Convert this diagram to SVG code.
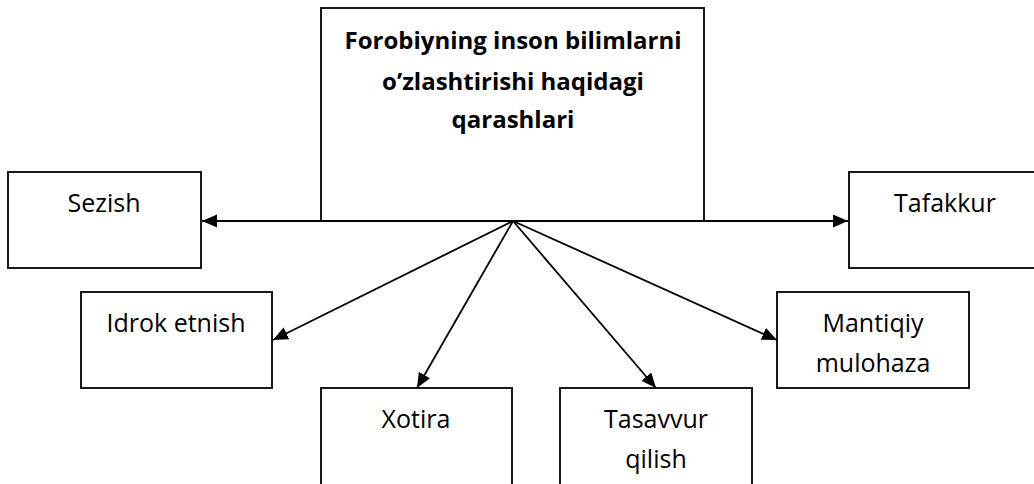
<svg xmlns="http://www.w3.org/2000/svg" width="1034" height="484" viewBox="0 0 1034 484">
<style>
.box{fill:#fff;stroke:#000;stroke-width:1.8}
.t{font-family:"Open Sans","DejaVu Sans",sans-serif;font-size:25px;fill:#000;text-anchor:middle}
.tb{font-family:"Open Sans","DejaVu Sans",sans-serif;font-size:24px;font-weight:bold;fill:#000;text-anchor:middle}
.c{stroke:#000;stroke-width:1.8;fill:none;marker-end:url(#ah)}
</style>
<defs>
<marker id="ah" markerUnits="userSpaceOnUse" markerWidth="16" markerHeight="14" refX="15" refY="6.5" orient="auto">
<path d="M0,0 L15,6.5 L0,13 z" fill="#000"/>
</marker>
</defs>
<rect width="1034" height="484" fill="#fff"/>
<g id="main">
<rect class="box" x="321" y="8" width="383" height="213"/>
<text class="tb" x="513" y="49">Forobiyning inson bilimlarni</text>
<text class="tb" x="513" y="90">o’zlashtirishi haqidagi</text>
<text class="tb" x="513" y="128">qarashlari</text>
</g>
<g id="sezish">
<rect class="box" x="8" y="172" width="193" height="96"/>
<text class="t" x="104" y="212">Sezish</text>
</g>
<g id="tafakkur">
<rect class="box" x="849" y="172" width="200" height="96"/>
<text class="t" x="945" y="212">Tafakkur</text>
</g>
<g id="idrok">
<rect class="box" x="81" y="292" width="191" height="96"/>
<text class="t" x="176" y="332">Idrok etnish</text>
</g>
<g id="mantiqiy">
<rect class="box" x="777" y="292" width="192" height="96"/>
<text class="t" x="873" y="332">Mantiqiy</text>
<text class="t" x="873" y="372">mulohaza</text>
</g>
<g id="xotira">
<rect class="box" x="321" y="388" width="191" height="110"/>
<text class="t" x="416" y="428">Xotira</text>
</g>
<g id="tasavvur">
<rect class="box" x="560" y="388" width="192" height="110"/>
<text class="t" x="656" y="428">Tasavvur</text>
<text class="t" x="656" y="468">qilish</text>
</g>
<g id="connectors">
<line class="c" x1="513" y1="221" x2="202" y2="221"/>
<line class="c" x1="513" y1="221" x2="848" y2="221"/>
<line class="c" x1="513" y1="221" x2="273" y2="340"/>
<line class="c" x1="513" y1="221" x2="417" y2="388"/>
<line class="c" x1="513" y1="221" x2="656" y2="388"/>
<line class="c" x1="513" y1="221" x2="777" y2="340"/>
</g>
</svg>
